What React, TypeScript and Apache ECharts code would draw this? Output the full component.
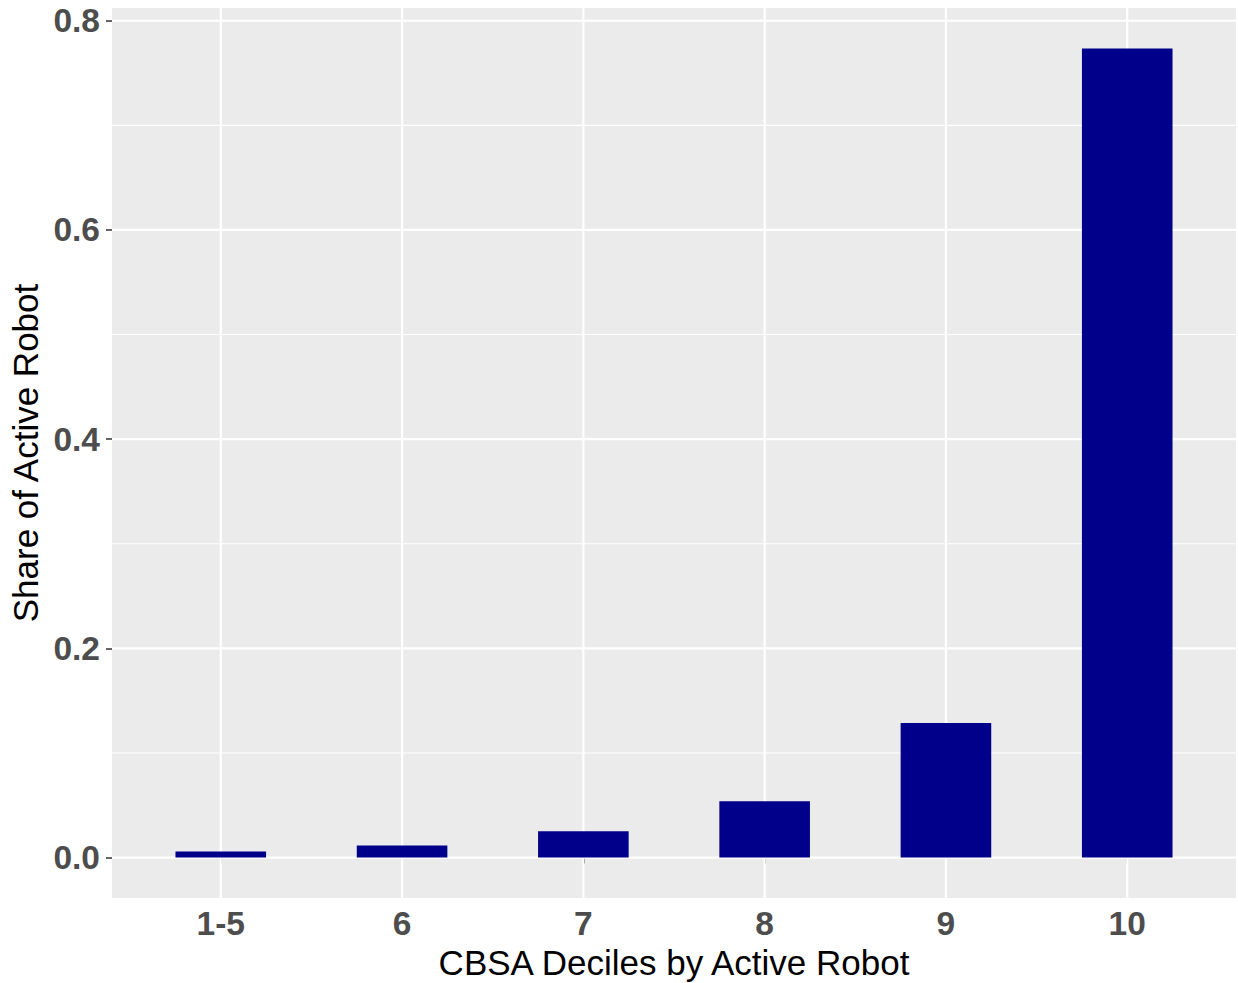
import React, { useEffect, useRef } from "react";
import * as echarts from "echarts";

const categories = ["1-5", "6", "7", "8", "9", "10"];
const xPositions = [1, 2, 3, 4, 5, 6];
const shares = [0.0057, 0.0115, 0.0251, 0.0538, 0.1287, 0.7735];
const yMajorBreaks = [0, 0.2, 0.4, 0.6, 0.8];
const yMinorBreaks = [0.1, 0.3, 0.5, 0.7];
const yTickLabels = ["0.0", "0.2", "0.4", "0.6", "0.8"];
const xTitle = "CBSA Deciles by Active Robot";
const yTitle = "Share of Active Robot";

const FONT = "'Liberation Sans', Arial, sans-serif";

export default function App() {
  const ref = useRef<HTMLDivElement>(null);
  useEffect(() => {
    if (!ref.current) return;
    const chart = echarts.init(ref.current, null, { renderer: "svg" });
    const maxV = Math.max(...shares);
    const yMin = -0.05 * maxV;
    const yMax = maxV * 1.05;
    const xMin = xPositions[0] - 0.6;
    const xMax = xPositions[xPositions.length - 1] + 0.6;

    const gridData = [
      ...yMajorBreaks.map((v) => [xPositions[0], v, 0]),
      ...yMinorBreaks.map((v) => [xPositions[0], v, 1]),
      ...xPositions.map((p) => [p, 0, 2]),
    ];

    chart.setOption({
      animation: false,
      backgroundColor: "#FFFFFF",
      grid: {
        left: 112,
        top: 8,
        width: 1124,
        height: 890,
        show: true,
        backgroundColor: "#EBEBEB",
        borderWidth: 0,
        containLabel: false,
        outerBoundsMode: "none",
      },
      xAxis: {
        type: "value",
        min: xMin,
        max: xMax,
        axisLine: { show: false },
        splitLine: { show: false },
        axisTick: {
          show: true,
          customValues: xPositions,
          length: 6,
          lineStyle: { color: "#333333", width: 1.5 },
        },
        axisLabel: {
          customValues: xPositions,
          formatter: (v: number) => {
            const i = xPositions.findIndex((p) => Math.abs(p - v) < 1e-9);
            return i >= 0 ? categories[i] : "";
          },
          fontFamily: FONT,
          fontWeight: "bold",
          fontSize: 33.5,
          color: "#4D4D4D",
          margin: 8,
        },
        name: xTitle,
        nameLocation: "middle",
        nameGap: 45,
        nameTextStyle: { fontFamily: FONT, fontSize: 35, color: "#000000" },
      },
      yAxis: {
        type: "value",
        min: yMin,
        max: yMax,
        axisLine: { show: false },
        splitLine: { show: false },
        minorSplitLine: { show: false },
        axisTick: {
          show: true,
          customValues: yMajorBreaks,
          length: 6,
          lineStyle: { color: "#333333", width: 1.5 },
        },
        axisLabel: {
          customValues: yMajorBreaks,
          formatter: (v: number) => {
            const i = yMajorBreaks.findIndex((b) => Math.abs(b - v) < 1e-9);
            return i >= 0 ? yTickLabels[i] : "";
          },
          fontFamily: FONT,
          fontWeight: "bold",
          fontSize: 33.5,
          color: "#4D4D4D",
          margin: 12,
        },
        name: yTitle,
        nameLocation: "middle",
        nameGap: 68,
        nameTextStyle: { fontFamily: FONT, fontSize: 35, color: "#000000" },
      },
      series: [
        {
          type: "custom",
          z: 1,
          silent: true,
          encode: { x: 0, y: 1 },
          data: gridData,
          renderItem: (params: any, api: any) => {
            const kind = api.value(2);
            const cs = params.coordSys;
            if (kind === 2) {
              const p = api.coord([api.value(0), 0]);
              return {
                type: "line",
                shape: { x1: p[0], y1: cs.y, x2: p[0], y2: cs.y + cs.height },
                style: { stroke: "#FFFFFF", lineWidth: 2.2 },
              };
            }
            const p = api.coord([xPositions[0], api.value(1)]);
            return {
              type: "line",
              shape: { x1: cs.x, y1: p[1], x2: cs.x + cs.width, y2: p[1] },
              style: { stroke: "#FFFFFF", lineWidth: kind === 0 ? 2.2 : 1.1 },
            };
          },
        },
        {
          type: "bar",
          z: 2,
          barWidth: 90.6,
          data: shares.map((v, i) => [xPositions[i], v]),
          itemStyle: { color: "#00008B" },
        },
      ],
    });
    return () => chart.dispose();
  }, []);
  return (
    <div
      ref={ref}
      style={{ position: "absolute", left: 0, top: 0, width: 1238, height: 983 }}
    />
  );
}
